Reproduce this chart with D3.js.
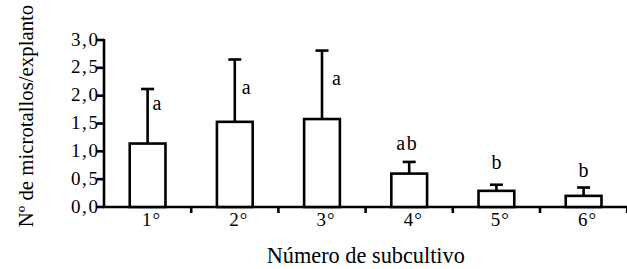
<!DOCTYPE html>
<html>
<head>
<meta charset="utf-8">
<script src="https://cdn.jsdelivr.net/npm/d3@7"></script>
</head>
<body style="margin:0;padding:0;background:#fff">
<svg id="chart" width="627" height="269" style="display:block"></svg>
<script>
// ---- data ----
const categories = ["1°", "2°", "3°", "4°", "5°", "6°"];
const means      = [1.14, 1.53, 1.58, 0.60, 0.29, 0.20];
const upper      = [2.12, 2.65, 2.81, 0.81, 0.40, 0.35]; // mean + SD
const letters    = ["a", "a", "a", "ab", "b", "b"];
const yTicks     = [0, 0.5, 1, 1.5, 2, 2.5, 3];
const yTickLabels = ["0,0", "0,5", "1,0", "1,5", "2,0", "2,5", "3,0"];
const xTitle = "Número de subcultivo";
const yTitle = "Nº de microtallos/explanto";

// ---- drawing ----
const FONT = "Times New Roman, serif";
const svg = d3.select("#chart");
const x = d3.scaleBand().domain(categories).range([104, 627.2]).padding(0);
const y = d3.scaleLinear().domain([0, 3]).range([207, 40]);
const sw = 2.6;
const barW = x.bandwidth() * 0.41;
const capHalf = 6.5;

function txt(sel) {
  return sel.append("text").attr("class", "lbl").attr("font-family", FONT).attr("fill", "#000");
}

// y axis
svg.append("line").attr("x1", 104).attr("x2", 104)
  .attr("y1", y(3) - 1).attr("y2", y(0) + 1)
  .attr("stroke", "#000").attr("stroke-width", sw);
yTicks.forEach((t, i) => {
  svg.append("line").attr("x1", 97).attr("x2", 104)
    .attr("y1", y(t)).attr("y2", y(t))
    .attr("stroke", "#000").attr("stroke-width", sw);
  txt(svg).attr("x", 99.5).attr("y", y(t) + 5.5)
    .attr("text-anchor", "end").attr("font-size", 19)
    .attr("letter-spacing", "1.6")
    .text(yTickLabels[i]);
});

// x axis
svg.append("line").attr("x1", 103).attr("x2", 627)
  .attr("y1", y(0)).attr("y2", y(0))
  .attr("stroke", "#000").attr("stroke-width", sw);
categories.forEach((c, i) => {
  const bx = x(c) + x.bandwidth();
  svg.append("line").attr("x1", bx).attr("x2", bx)
    .attr("y1", y(0)).attr("y2", y(0) + 6)
    .attr("stroke", "#000").attr("stroke-width", sw);
  txt(svg).attr("x", x(c) + x.bandwidth() / 2 + 4).attr("y", 226)
    .attr("text-anchor", "middle").attr("font-size", 19)
    .attr("letter-spacing", "1")
    .text(c);
});

// bars + error bars
categories.forEach((c, i) => {
  const cx = x(c) + x.bandwidth() / 2;
  svg.append("line").attr("x1", cx).attr("x2", cx)
    .attr("y1", y(means[i])).attr("y2", y(upper[i]))
    .attr("stroke", "#000").attr("stroke-width", sw);
  svg.append("line").attr("x1", cx - capHalf).attr("x2", cx + capHalf)
    .attr("y1", y(upper[i])).attr("y2", y(upper[i]))
    .attr("stroke", "#000").attr("stroke-width", sw);
  svg.append("rect").attr("x", cx - barW / 2).attr("y", y(means[i]))
    .attr("width", barW).attr("height", y(0) - y(means[i]))
    .attr("fill", "#fff").attr("stroke", "#000").attr("stroke-width", sw);
});

// significance letters
const letterLayout = [
  {dx: 5, dy: 21, anchor: "start"},
  {dx: 7, dy: 35, anchor: "start"},
  {dx: 10, dy: 34, anchor: "start"},
  {dx: -2, dy: -12, anchor: "middle"},
  {dx: 0, dy: -16, anchor: "middle"},
  {dx: 0, dy: -11, anchor: "middle"}
];
categories.forEach((c, i) => {
  const cx = x(c) + x.bandwidth() / 2;
  const L = letterLayout[i];
  txt(svg).attr("x", cx + L.dx).attr("y", y(upper[i]) + L.dy)
    .attr("text-anchor", L.anchor).attr("font-size", 20)
    .attr("letter-spacing", letters[i].length > 1 ? "1.5" : "0")
    .text(letters[i]);
});

// axis titles
txt(svg).attr("x", 365.8).attr("y", 263)
  .attr("text-anchor", "middle").attr("font-size", 22.3)
  .text(xTitle);
txt(svg)
  .attr("transform", "translate(33,116) rotate(-90)")
  .attr("text-anchor", "middle").attr("font-size", 20.8)
  .text(yTitle);

// re-apply the serif face once fonts are ready (forces re-layout)
if (document.fonts && document.fonts.load) {
  document.fonts.load('20px "Times New Roman"').then(() => {
    svg.selectAll("text.lbl").attr("font-family", "Times New Roman").style("font-family", "'Times New Roman', serif");
  }).catch(() => {});
}
</script>
</body>
</html>
